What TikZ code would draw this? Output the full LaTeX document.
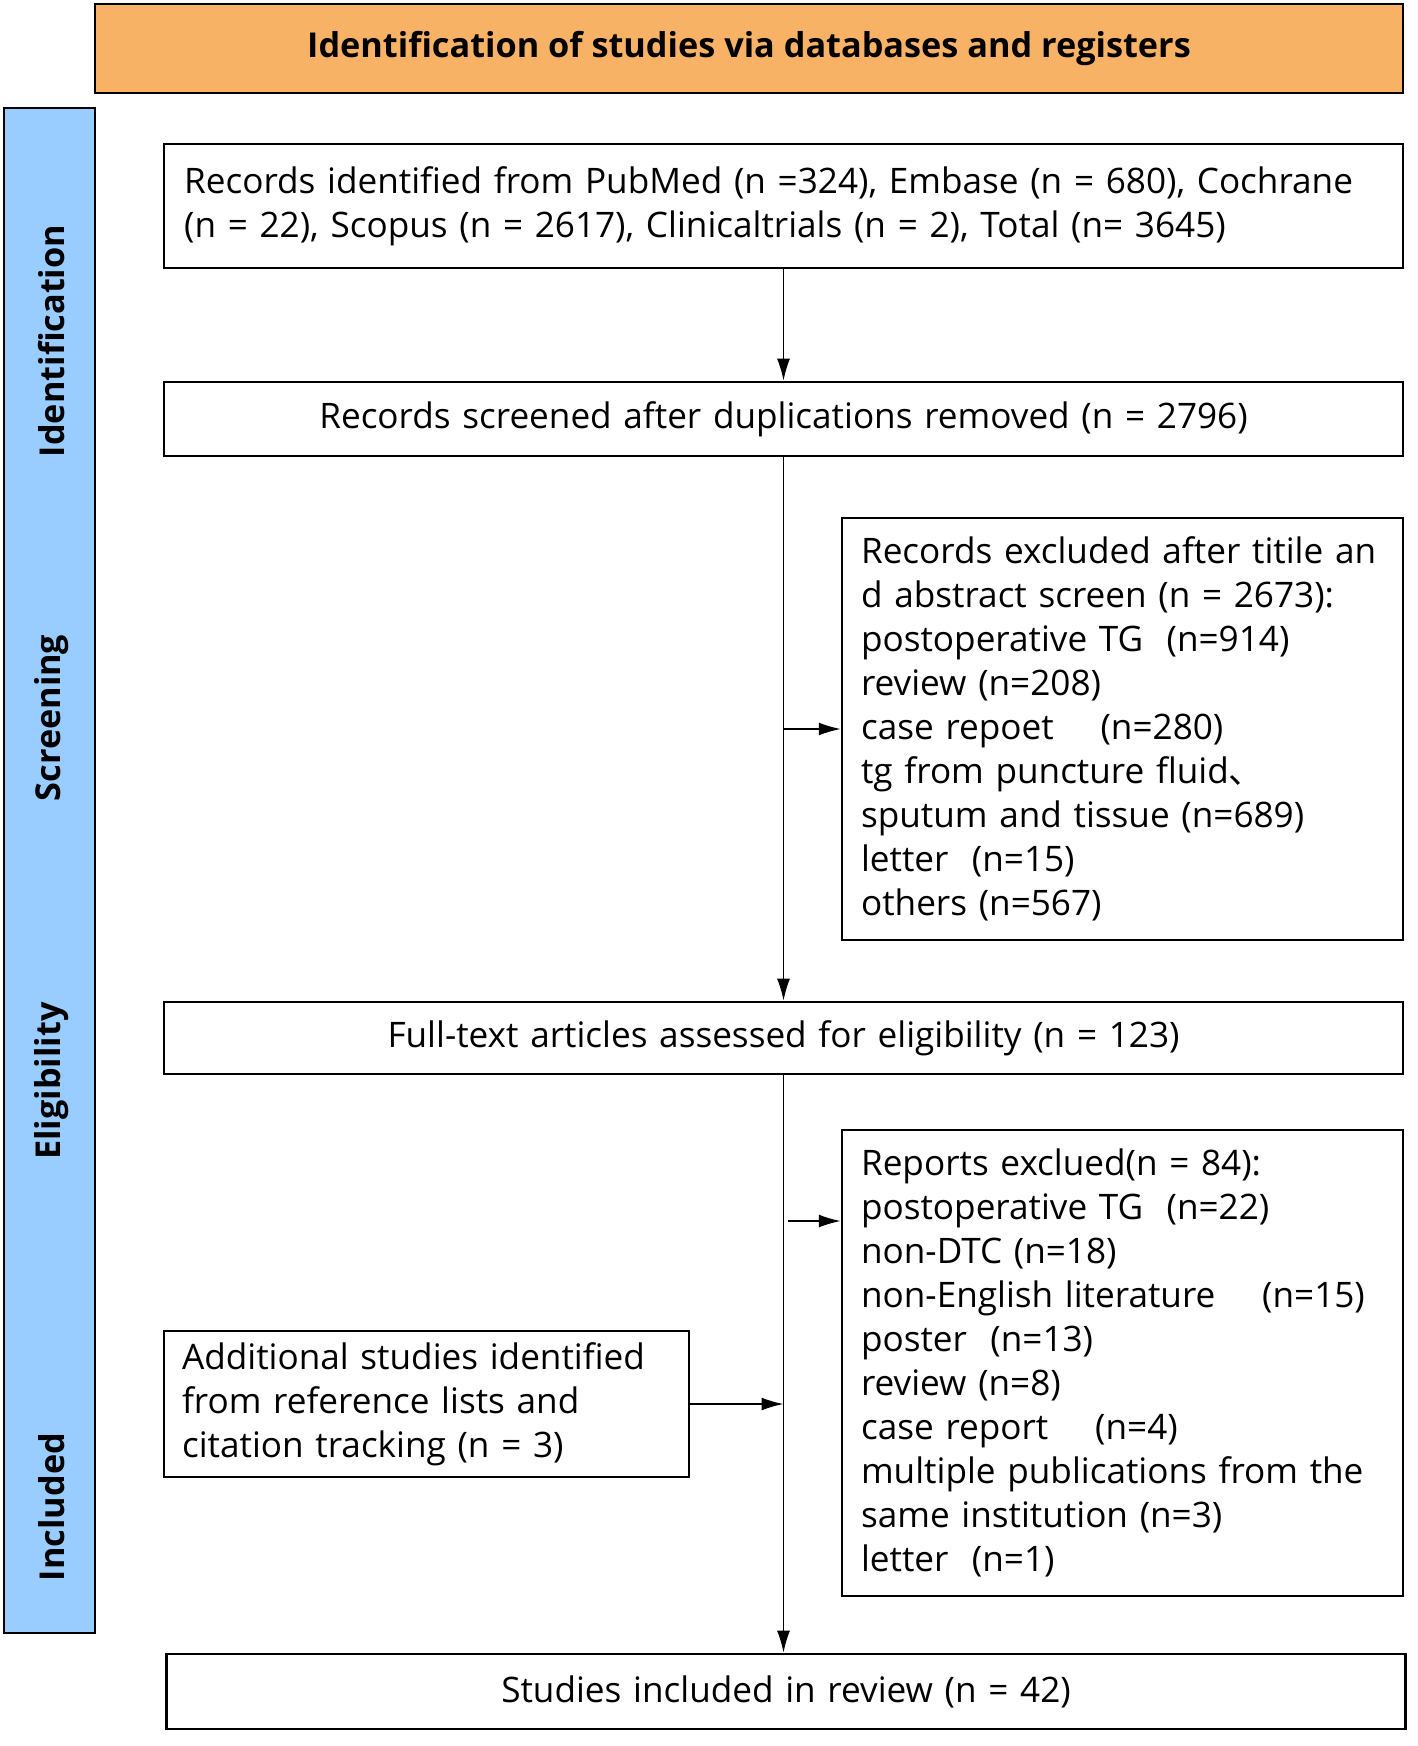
\documentclass[tikz,border=0pt]{standalone}
\usepackage{fontspec}
\setmainfont{Open Sans}
\newfontfamily\cjk{Noto Sans CJK SC}
\usepackage{tikz}
\usetikzlibrary{arrows.meta,calc}
\definecolor{headorange}{RGB}{248,178,102}
\definecolor{phaseblue}{RGB}{153,204,255}
\tikzstyle{header} = [rectangle, minimum width=26.16cm, minimum height=1.78cm, text centered, draw=black, fill=headorange, font=\fontsize{19.5}{24}\selectfont\bfseries]
\tikzstyle{phasebar} = [rectangle, minimum width=1.82cm, minimum height=30.5cm, draw=black, fill=phaseblue]
\tikzstyle{phase} = [rotate=90, font=\fontsize{19.5}{24}\selectfont\bfseries]
\tikzstyle{widebox} = [rectangle, minimum width=24.78cm, inner xsep=0.4cm, text width=23.98cm, draw=black]
\tikzstyle{listbox} = [rectangle, minimum width=11.22cm, inner xsep=0.38cm, text width=10.46cm, align=left, draw=black]
\tikzstyle{sidebox} = [rectangle, minimum width=10.5cm, minimum height=2.92cm, inner xsep=0.36cm, text width=9.78cm, align=left, draw=black]
\tikzstyle{conn} = [line width=0.9pt, -{Latex[length=4.4mm,width=2.6mm]}]

\begin{document}
\begin{tikzpicture}[x=0.02cm, y=-0.02cm]
			\tikzstyle{every node}=[font=\fontsize{20}{25}\selectfont, line width=1.5pt]
			\useasboundingbox (0,0) rectangle (1417,1746);
			
			\node [header] (header) at (749,48.5) {Identification of studies via databases and registers};
			\node [phasebar] (phasebar) at (49.5,870.5) {};
			\node [phase] (identification) at (52,341) {Identification};
			\node [phase] (screening) at (52,718) {Screening};
			\node [phase] (eligibility) at (52,1081) {Eligibility};
			\node [phase] (included) at (52,1507) {Included};
			
			\node [widebox, minimum height=2.48cm, align=left] (records) at (783.5,206) {Records identified from PubMed (n =324), Embase (n = 680), Cochrane\\(n = 22), Scopus (n = 2617), Clinicaltrials (n = 2), Total (n= 3645)};
			\node [widebox, minimum height=1.48cm, text centered] (screened) at (783.5,419) {Records screened after duplications removed (n = 2796)};
			\node [listbox, minimum height=8.44cm] (excludedA) at (1122.5,729) {Records excluded after titile an\\d abstract screen (n = 2673):\\postoperative TG\ \ (n=914)\\review (n=208)\\case repoet\ \ \ \ (n=280)\\tg from puncture fluid{\cjk 、}\\sputum and tissue (n=689)\\letter\ \ (n=15)\\others (n=567)};
			\node [widebox, minimum height=1.44cm, text centered] (fulltext) at (783.5,1038) {Full-text articles assessed for eligibility (n = 123)};
			\node [listbox, minimum height=9.32cm] (excludedB) at (1122.5,1363) {Reports exclued(n = 84):\\postoperative TG\ \ (n=22)\\non-DTC (n=18)\\non-English literature\ \ \ \ (n=15)\\poster\ \ (n=13)\\review (n=8)\\case report\ \ \ \ (n=4)\\multiple publications from the\\same institution (n=3)\\letter\ \ (n=1)};
			\node [sidebox] (additional) at (426.5,1404) {Additional studies identified\\from reference lists and\\citation tracking (n = 3)};
			\node [widebox, minimum width=24.68cm, minimum height=1.5cm, text centered] (studies) at (786,1691.5) {Studies included in review (n = 42)};
			
			\coordinate (splitB) at (788,1221);
			
			\draw [conn] (records.south) -- (screened.north);
			\draw [conn] (screened.south) -- (fulltext.north);
			\draw [conn] (screened.south |- excludedA.west) -- (excludedA.west);
			\draw [conn] (fulltext.south) -- (fulltext.south |- studies.north);
			\draw [conn] (splitB) -- (splitB -| excludedB.west);
			\draw [conn] (additional.east) -- (additional.east -| fulltext.south);
			
		\end{tikzpicture}
\end{document}
